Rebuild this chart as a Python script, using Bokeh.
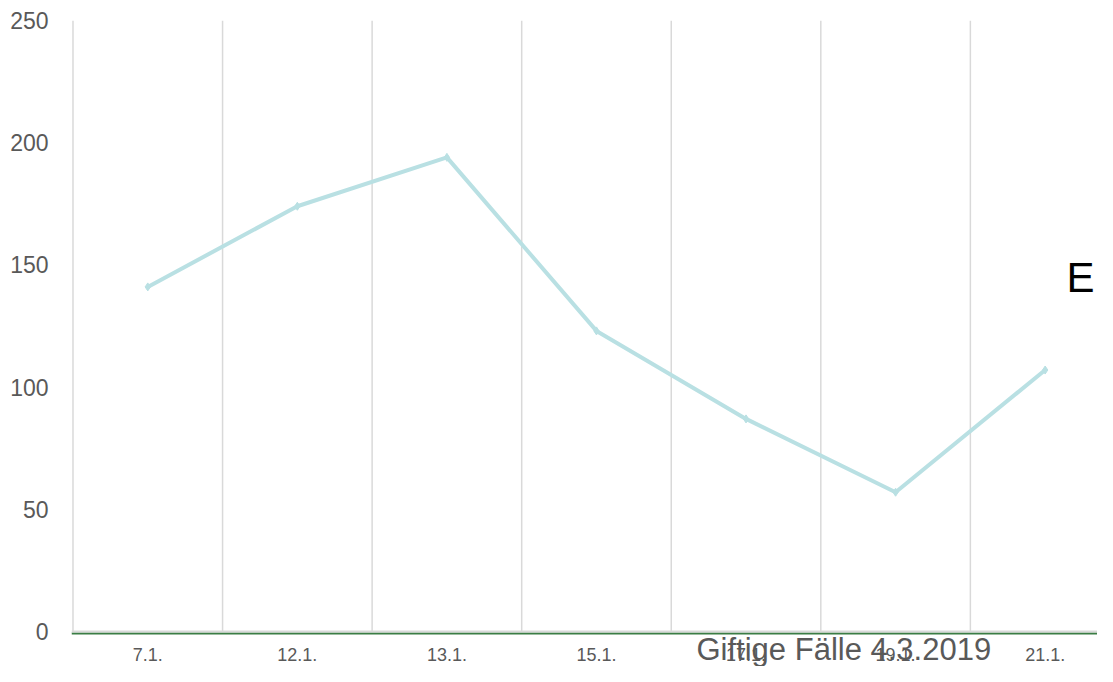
from bokeh.plotting import figure
from bokeh.models import Range1d, Span, Label, FixedTicker
from bokeh.embed import file_html
from bokeh.resources import INLINE

categories = ["7.1.", "12.1.", "13.1.", "15.1.", "17.1.", "19.1.", "21.1."]
values = [141, 174, 194, 123, 87, 57, 107]
y_ticks = [0, 50, 100, 150, 200, 250]
subtitle = "Giftige Fälle 4.3.2019"
title_fragment = "E"

W, H = 1097, 666
n = len(categories)
centers = [i + 0.5 for i in range(n)]
boundaries = list(range(n + 1))

p = figure(width=W, height=H, x_range=Range1d(-0.01, 6.85),
           y_range=Range1d(-14.3, 250), output_backend="svg", toolbar_location=None,
           min_border_left=71, min_border_right=0, min_border_top=20, min_border_bottom=0)
p.outline_line_color = None

p.yaxis.ticker = y_ticks
p.yaxis.axis_line_color = None
p.yaxis.major_tick_line_color = None
p.yaxis.minor_tick_line_color = None
p.yaxis.major_label_standoff = 17
p.yaxis.major_label_text_font = "Liberation Sans"
p.yaxis.major_label_text_font_size = "23px"
p.yaxis.major_label_text_color = "#595959"

p.xaxis.fixed_location = -1.0
p.xaxis.ticker = FixedTicker(ticks=centers)
p.xaxis.major_label_overrides = {c: lab for c, lab in zip(centers, categories)}
p.xaxis.axis_line_color = "#3a7d44"
p.xaxis.axis_line_width = 2
p.xaxis.major_tick_line_color = None
p.xaxis.minor_tick_line_color = None
p.xaxis.major_label_standoff = 8
p.xaxis.major_label_text_font = "Liberation Sans"
p.xaxis.major_label_text_font_size = "18px"
p.xaxis.major_label_text_color = "#595959"

p.xgrid.visible = False
p.ygrid.visible = False

# vertical grid lines at category boundaries, from 0 to the top of the value axis
p.segment(x0=boundaries, y0=[y_ticks[0]] * len(boundaries),
          x1=boundaries, y1=[y_ticks[-1]] * len(boundaries),
          line_color="#d9d9d9", line_width=1.5)
p.add_layout(Span(location=y_ticks[0], dimension="width", line_color="#d9d9d9", line_width=2))

p.line(centers, values, line_color="#b9e0e3", line_width=4)
p.scatter(centers, values, marker="diamond", size=8, color="#b9e0e3")

p.add_layout(Label(x=696, y=649, x_units="canvas", y_units="canvas",
                   text=subtitle, text_font="Liberation Sans", text_font_size="31px",
                   text_color="#595959", text_baseline="alphabetic"))
p.add_layout(Label(x=1066, y=277, x_units="canvas", y_units="canvas",
                   text=title_fragment, text_font="Liberation Sans", text_font_size="42px",
                   text_color="black", text_baseline="alphabetic"))

open("out.html", "w").write(file_html(p, INLINE))
